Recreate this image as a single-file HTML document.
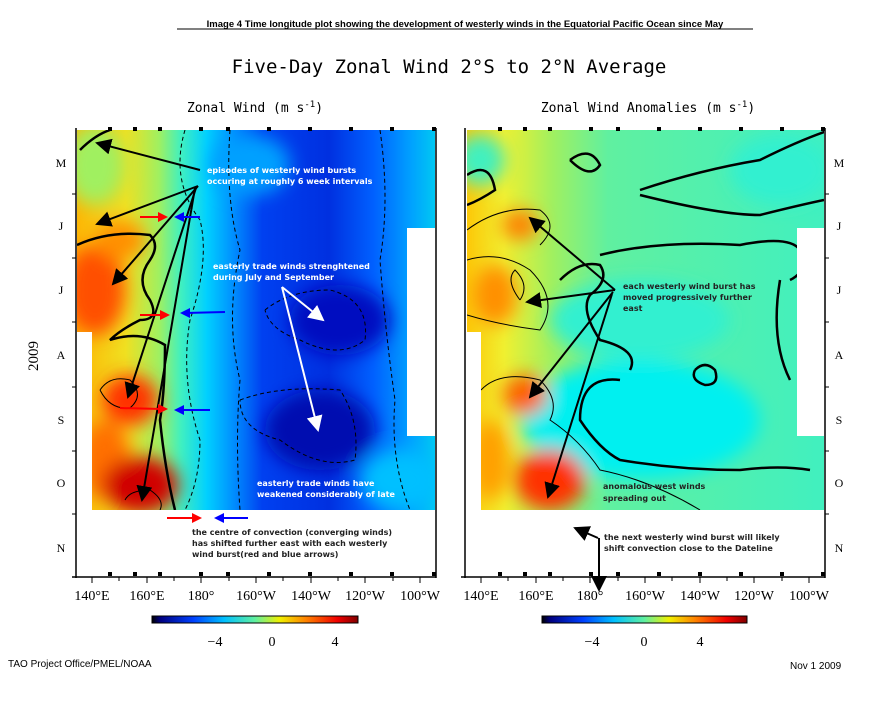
<!DOCTYPE html>
<html><head><meta charset="utf-8"><style>
html,body{margin:0;padding:0;background:#fff}
svg{display:block}
</style></head><body>
<svg width="895" height="709" viewBox="0 0 895 709" xmlns="http://www.w3.org/2000/svg">
<defs>
<filter id="b" x="-20%" y="-20%" width="140%" height="140%"><feGaussianBlur stdDeviation="9"/></filter>
<clipPath id="cl"><rect x="77" y="130" width="358" height="380"/></clipPath>
<clipPath id="cr"><rect x="467" y="130" width="357" height="380"/></clipPath>
<linearGradient id="gl" x1="0" x2="1" y1="0" y2="0">
<stop offset="0" stop-color="#ffb000"/><stop offset="0.15" stop-color="#f0e020"/><stop offset="0.24" stop-color="#a0f060"/>
<stop offset="0.3" stop-color="#40f0c0"/><stop offset="0.37" stop-color="#00d0ff"/><stop offset="0.44" stop-color="#0090ff"/>
<stop offset="0.52" stop-color="#0040f0"/><stop offset="0.7" stop-color="#0030e0"/><stop offset="0.82" stop-color="#0060ff"/><stop offset="0.92" stop-color="#00a0ff"/><stop offset="1" stop-color="#00d0f0"/>
</linearGradient>
<linearGradient id="gr" x1="0" x2="1" y1="0" y2="0">
<stop offset="0" stop-color="#ffc000"/><stop offset="0.12" stop-color="#f0f030"/><stop offset="0.25" stop-color="#a0f060"/>
<stop offset="0.4" stop-color="#60f0a0"/><stop offset="1" stop-color="#40f0c0"/>
</linearGradient>
<linearGradient id="cb" x1="0" x2="1">
<stop offset="0" stop-color="#000"/><stop offset="0.04" stop-color="#000080"/><stop offset="0.2" stop-color="#0040ff"/><stop offset="0.35" stop-color="#00c0ff"/>
<stop offset="0.5" stop-color="#60f0a0"/><stop offset="0.62" stop-color="#f0f000"/><stop offset="0.75" stop-color="#ff8000"/><stop offset="0.9" stop-color="#f00000"/><stop offset="1" stop-color="#800000"/>
</linearGradient>
<marker id="ak" markerWidth="8" markerHeight="8" refX="7" refY="4" orient="auto"><path d="M0,0 L8,4 L0,8 z" fill="#000"/></marker>
<marker id="aw" markerWidth="8" markerHeight="8" refX="7" refY="4" orient="auto"><path d="M0,0 L8,4 L0,8 z" fill="#fff"/></marker>
</defs>

<text x="465" y="27" font-family="Liberation Sans, sans-serif" font-size="9.5" font-weight="bold" text-anchor="middle">Image 4 Time longitude plot showing the development of westerly winds in the Equatorial Pacific Ocean since May</text>
<line x1="177" y1="29" x2="753" y2="29" stroke="#000" stroke-width="1"/>
<text x="449" y="73" font-family="DejaVu Sans Mono, monospace" font-size="19" text-anchor="middle">Five-Day Zonal Wind  2°S to 2°N Average</text>
<text x="255" y="112" font-family="DejaVu Sans Mono, monospace" font-size="13" text-anchor="middle">Zonal Wind (m s<tspan font-size="9" dy="-5">-1</tspan><tspan dy="5">)</tspan></text>
<text x="648" y="112" font-family="DejaVu Sans Mono, monospace" font-size="13" text-anchor="middle">Zonal Wind Anomalies (m s<tspan font-size="9" dy="-5">-1</tspan><tspan dy="5">)</tspan></text>
<text x="38" y="356" font-family="Liberation Serif, serif" font-size="15" text-anchor="middle" transform="rotate(-90 38 356)">2009</text>

<g clip-path="url(#cl)">
<rect x="70" y="125" width="370" height="390" fill="url(#gl)"/>
<g filter="url(#b)">
<ellipse cx="95" cy="165" rx="30" ry="40" fill="#a0f060"/>
<ellipse cx="95" cy="290" rx="30" ry="45" fill="#ff5000"/>
<ellipse cx="120" cy="240" rx="25" ry="20" fill="#ff9000"/>
<ellipse cx="130" cy="400" rx="28" ry="25" fill="#ff3000"/>
<ellipse cx="105" cy="460" rx="25" ry="40" fill="#ff7000"/>
<ellipse cx="140" cy="485" rx="38" ry="28" fill="#d00000"/>
<ellipse cx="340" cy="320" rx="50" ry="35" fill="#0010c0"/>
<ellipse cx="320" cy="430" rx="55" ry="40" fill="#0010b0"/>
<ellipse cx="250" cy="165" rx="40" ry="30" fill="#00a0ff"/>
<ellipse cx="400" cy="480" rx="40" ry="30" fill="#00c0ff"/>
</g>
<path d="M80,150 Q95,135 110,130 M77,245 Q110,230 150,235 Q160,245 150,260 Q135,280 150,300 Q160,320 140,320 Q120,330 110,340 Q140,330 165,345 Q165,390 160,420 Q165,470 175,510" fill="none" stroke="#000" stroke-width="2.5"/>
<path d="M100,390 Q110,375 130,380 Q145,395 130,408 Q110,410 100,390 M125,500 Q130,490 150,490 Q165,500 160,510" fill="none" stroke="#000" stroke-width="1"/>
<path d="M185,130 Q170,180 200,220 Q210,260 190,320 Q180,380 200,440 Q200,480 185,510 M230,130 Q225,200 240,250 Q225,320 240,380 Q235,440 240,510 M265,310 Q290,290 330,290 Q370,300 365,340 Q340,360 300,340 Q270,330 265,310 M240,400 Q280,385 340,390 Q360,420 355,460 Q320,470 280,440 Q240,430 240,400 M380,130 Q390,200 380,260 Q385,330 395,400 Q390,460 410,510" fill="none" stroke="#000" stroke-width="1" stroke-dasharray="4,3"/>
</g>
<rect x="407" y="228" width="29" height="208" fill="#fff"/>
<rect x="76" y="332" width="16" height="179" fill="#fff"/>

<g clip-path="url(#cr)">
<rect x="460" y="125" width="370" height="390" fill="url(#gr)"/>
<g filter="url(#b)">
<ellipse cx="640" cy="420" rx="120" ry="60" fill="#00f0f0"/>
<ellipse cx="640" cy="320" rx="90" ry="40" fill="#30f0d0"/>
<ellipse cx="520" cy="225" rx="18" ry="15" fill="#ff8000"/>
<ellipse cx="495" cy="295" rx="22" ry="30" fill="#ff9000"/>
<ellipse cx="525" cy="395" rx="22" ry="20" fill="#ff6000"/>
<ellipse cx="490" cy="460" rx="20" ry="40" fill="#ffa000"/>
<ellipse cx="550" cy="480" rx="35" ry="30" fill="#ff3000"/>
<ellipse cx="480" cy="160" rx="25" ry="25" fill="#40f0c0"/>
<ellipse cx="780" cy="170" rx="50" ry="35" fill="#30f0d0"/>
</g>
<path d="M467,175 Q490,160 495,190 Q480,200 467,205 M640,190 Q700,170 760,160 Q800,140 830,130 M640,195 Q720,215 760,215 Q800,205 824,200 M600,255 Q660,240 740,245 Q790,235 800,250 Q810,270 790,280 M560,280 Q580,260 600,265 Q610,280 590,295 Q580,310 600,340 Q640,350 630,370 M620,380 Q580,375 580,420 Q600,450 620,460 Q680,470 740,470 Q780,465 810,470 M780,280 Q770,340 790,380 M695,370 Q705,360 715,370 Q720,385 705,385 Q690,380 695,370 M570,160 Q590,145 600,165 Q590,180 570,160" fill="none" stroke="#000" stroke-width="2.5"/>
<path d="M467,230 Q500,205 540,210 Q560,225 540,245 M467,260 Q500,250 530,270 Q560,300 540,330 Q500,325 467,315 M481,390 Q500,370 540,380 Q560,400 550,420 Q580,440 600,470 Q650,480 700,510 M520,300 Q505,280 515,270 Q530,285 520,300" fill="none" stroke="#000" stroke-width="1"/>
</g>
<rect x="797" y="228" width="28" height="208" fill="#fff"/>
<rect x="466" y="332" width="15" height="179" fill="#fff"/>

<g stroke="#000" stroke-width="1.5" fill="none">
<line x1="76" y1="128" x2="76" y2="578"/><line x1="436" y1="128" x2="436" y2="578"/>
<line x1="72" y1="577" x2="436" y2="577"/>
<line x1="465" y1="128" x2="465" y2="578"/><line x1="825" y1="128" x2="825" y2="578"/>
<line x1="461" y1="577" x2="825" y2="577"/>
</g>
<g fill="#000">
<rect x="108" y="127" width="4" height="4"/><rect x="133" y="127" width="4" height="4"/><rect x="158" y="127" width="4" height="4"/><rect x="199" y="127" width="4" height="4"/><rect x="226" y="127" width="4" height="4"/><rect x="267" y="127" width="4" height="4"/><rect x="308" y="127" width="4" height="4"/><rect x="349" y="127" width="4" height="4"/><rect x="390" y="127" width="4" height="4"/><rect x="432" y="127" width="4" height="4"/>
<rect x="108" y="572" width="4" height="4"/><rect x="133" y="572" width="4" height="4"/><rect x="158" y="572" width="4" height="4"/><rect x="199" y="572" width="4" height="4"/><rect x="226" y="572" width="4" height="4"/><rect x="267" y="572" width="4" height="4"/><rect x="308" y="572" width="4" height="4"/><rect x="349" y="572" width="4" height="4"/><rect x="390" y="572" width="4" height="4"/><rect x="432" y="572" width="4" height="4"/>
<rect x="498" y="127" width="4" height="4"/><rect x="523" y="127" width="4" height="4"/><rect x="548" y="127" width="4" height="4"/><rect x="589" y="127" width="4" height="4"/><rect x="616" y="127" width="4" height="4"/><rect x="657" y="127" width="4" height="4"/><rect x="698" y="127" width="4" height="4"/><rect x="739" y="127" width="4" height="4"/><rect x="780" y="127" width="4" height="4"/><rect x="821" y="127" width="4" height="4"/>
<rect x="498" y="572" width="4" height="4"/><rect x="523" y="572" width="4" height="4"/><rect x="548" y="572" width="4" height="4"/><rect x="589" y="572" width="4" height="4"/><rect x="616" y="572" width="4" height="4"/><rect x="657" y="572" width="4" height="4"/><rect x="698" y="572" width="4" height="4"/><rect x="739" y="572" width="4" height="4"/><rect x="780" y="572" width="4" height="4"/><rect x="821" y="572" width="4" height="4"/>
</g>
<g stroke="#000" stroke-width="1">
<line x1="92" y1="577" x2="92" y2="583"/><line x1="119" y1="577" x2="119" y2="581"/><line x1="147" y1="577" x2="147" y2="583"/><line x1="174" y1="577" x2="174" y2="581"/><line x1="201" y1="577" x2="201" y2="583"/><line x1="229" y1="577" x2="229" y2="581"/><line x1="256" y1="577" x2="256" y2="583"/><line x1="283" y1="577" x2="283" y2="581"/><line x1="311" y1="577" x2="311" y2="583"/><line x1="338" y1="577" x2="338" y2="581"/><line x1="365" y1="577" x2="365" y2="583"/><line x1="393" y1="577" x2="393" y2="581"/><line x1="420" y1="577" x2="420" y2="583"/>
<line x1="481" y1="577" x2="481" y2="583"/><line x1="508" y1="577" x2="508" y2="581"/><line x1="536" y1="577" x2="536" y2="583"/><line x1="563" y1="577" x2="563" y2="581"/><line x1="590" y1="577" x2="590" y2="583"/><line x1="618" y1="577" x2="618" y2="581"/><line x1="645" y1="577" x2="645" y2="583"/><line x1="672" y1="577" x2="672" y2="581"/><line x1="700" y1="577" x2="700" y2="583"/><line x1="727" y1="577" x2="727" y2="581"/><line x1="754" y1="577" x2="754" y2="583"/><line x1="782" y1="577" x2="782" y2="581"/><line x1="809" y1="577" x2="809" y2="583"/>
<line x1="72" y1="194" x2="76" y2="194"/><line x1="72" y1="258" x2="76" y2="258"/><line x1="72" y1="322" x2="76" y2="322"/><line x1="72" y1="387" x2="76" y2="387"/><line x1="72" y1="451" x2="76" y2="451"/><line x1="72" y1="514" x2="76" y2="514"/>
<line x1="825" y1="194" x2="829" y2="194"/><line x1="825" y1="258" x2="829" y2="258"/><line x1="825" y1="322" x2="829" y2="322"/><line x1="825" y1="387" x2="829" y2="387"/><line x1="825" y1="451" x2="829" y2="451"/><line x1="825" y1="514" x2="829" y2="514"/>
</g>
<g font-family="Liberation Serif, serif" font-size="12" text-anchor="middle">
<text x="61" y="167">M</text><text x="61" y="230">J</text><text x="61" y="294">J</text><text x="61" y="359">A</text><text x="61" y="424">S</text><text x="61" y="487">O</text><text x="61" y="552">N</text>
<text x="839" y="167">M</text><text x="839" y="230">J</text><text x="839" y="294">J</text><text x="839" y="359">A</text><text x="839" y="424">S</text><text x="839" y="487">O</text><text x="839" y="552">N</text>
</g>
<g font-family="Liberation Serif, serif" font-size="14" text-anchor="middle">
<text x="92" y="600">140°E</text><text x="147" y="600">160°E</text><text x="201" y="600">180°</text><text x="256" y="600">160°W</text><text x="311" y="600">140°W</text><text x="365" y="600">120°W</text><text x="420" y="600">100°W</text>
<text x="481" y="600">140°E</text><text x="536" y="600">160°E</text><text x="590" y="600">180°</text><text x="645" y="600">160°W</text><text x="700" y="600">140°W</text><text x="754" y="600">120°W</text><text x="809" y="600">100°W</text>
</g>

<rect x="152" y="616" width="206" height="7" fill="url(#cb)" stroke="#000" stroke-width="1"/>
<rect x="542" y="616" width="205" height="7" fill="url(#cb)" stroke="#000" stroke-width="1"/>
<g font-family="Liberation Serif, serif" font-size="14" text-anchor="middle">
<text x="215" y="646">−4</text><text x="272" y="646">0</text><text x="335" y="646">4</text>
<text x="592" y="646">−4</text><text x="644" y="646">0</text><text x="700" y="646">4</text>
</g>
<text x="8" y="667" font-family="Liberation Sans, sans-serif" font-size="10">TAO Project Office/PMEL/NOAA</text>
<text x="790" y="669" font-family="Liberation Sans, sans-serif" font-size="10">Nov  1 2009</text>

<g font-family="DejaVu Sans, sans-serif" font-size="8" font-weight="bold" fill="#fff">
<text x="207" y="173">episodes of westerly wind bursts</text><text x="207" y="184">occuring at roughly 6 week intervals</text>
<text x="213" y="269">easterly trade winds strenghtened</text><text x="213" y="280">during July and September</text>
<text x="257" y="486">easterly trade winds have</text><text x="257" y="497">weakened considerably of late</text>
</g>
<g stroke="#000" stroke-width="2" marker-end="url(#ak)">
<line x1="200" y1="170" x2="97" y2="143"/>
<line x1="198" y1="186" x2="97" y2="224"/>
<line x1="198" y1="186" x2="113" y2="284"/>
<line x1="196" y1="188" x2="128" y2="397"/>
<line x1="195" y1="188" x2="142" y2="500"/>
</g>
<g stroke="#fff" stroke-width="2" marker-end="url(#aw)">
<line x1="282" y1="287" x2="323" y2="320"/><line x1="282" y1="287" x2="318" y2="430"/>
</g>
<g stroke-width="2">
<path d="M140,217 L162,217" stroke="#f00"/><path d="M158,212 L168,217 L158,222 z" fill="#f00"/>
<path d="M200,217 L178,217" stroke="#00f"/><path d="M184,212 L174,217 L184,222 z" fill="#00f"/>
<path d="M140,315 L166,315" stroke="#f00"/><path d="M160,310 L170,315 L160,320 z" fill="#f00"/>
<path d="M225,312 L185,313" stroke="#00f"/><path d="M190,308 L180,313 L190,318 z" fill="#00f"/>
<path d="M120,408 L162,409" stroke="#f00"/><path d="M158,404 L168,409 L158,414 z" fill="#f00"/>
<path d="M210,410 L178,410" stroke="#00f"/><path d="M184,405 L174,410 L184,415 z" fill="#00f"/>
<path d="M167,518 L198,518" stroke="#f00"/><path d="M192,513 L202,518 L192,523 z" fill="#f00"/>
<path d="M248,518 L217,518" stroke="#00f"/><path d="M224,513 L214,518 L224,523 z" fill="#00f"/>
</g>
<g font-family="DejaVu Sans, sans-serif" font-size="8" font-weight="bold" fill="#222">
<text x="192" y="535">the centre of convection (converging winds)</text>
<text x="192" y="546">has shifted further east with each westerly</text>
<text x="192" y="557">wind burst(red and blue arrows)</text>
</g>

<g font-family="DejaVu Sans, sans-serif" font-size="8" font-weight="bold" fill="#222">
<text x="623" y="289">each westerly wind burst has</text><text x="623" y="300">moved progressively further</text><text x="623" y="311">east</text>
<text x="603" y="489">anomalous west winds</text><text x="603" y="501">spreading out</text>
<text x="604" y="540">the next westerly wind burst will likely</text><text x="604" y="551">shift convection close to the Dateline</text>
</g>
<g stroke="#000" stroke-width="2" marker-end="url(#ak)">
<line x1="615" y1="290" x2="530" y2="218"/>
<line x1="615" y1="290" x2="527" y2="302"/>
<line x1="613" y1="292" x2="530" y2="397"/>
<line x1="612" y1="294" x2="548" y2="497"/>
<path d="M598,538 L575,528" fill="none"/>
<path d="M599,538 L599,590" fill="none"/>
</g>
</svg>
</body></html>
